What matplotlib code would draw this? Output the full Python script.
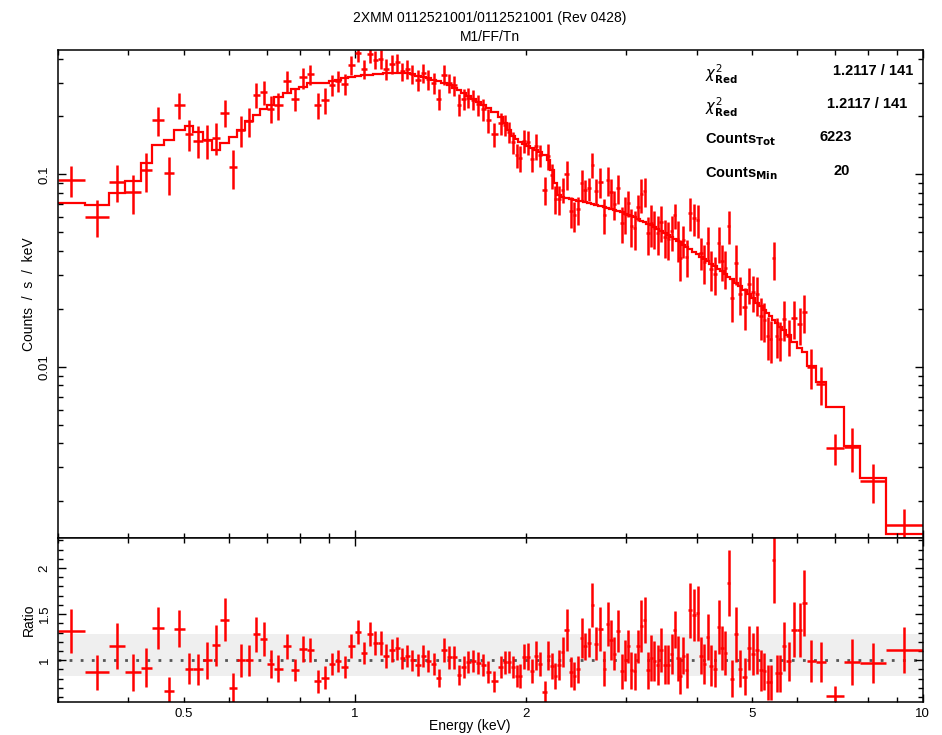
import numpy as np
import matplotlib
matplotlib.use('Agg')
import matplotlib.pyplot as plt
from matplotlib.ticker import FixedLocator, FuncFormatter, MultipleLocator, LogLocator, NullFormatter

plt.rcParams['font.family'] = ['Liberation Sans', 'DejaVu Sans']
plt.rcParams['mathtext.fontset'] = 'dejavusans'

# energy grid (keV), contiguous bin edges
edges = [0.300, 0.336, 0.370, 0.394, 0.420, 0.440, 0.461, 0.481, 0.502, 0.520,
         0.541, 0.560, 0.580, 0.601, 0.622, 0.641, 0.662, 0.681, 0.702, 0.722,
         0.747, 0.772, 0.798, 0.823, 0.848, 0.874, 0.901, 0.925, 0.948, 0.973,
         1.001, 1.026, 1.051, 1.077, 1.099, 1.124, 1.152, 1.178, 1.202, 1.226,
         1.251, 1.277, 1.308, 1.335, 1.363, 1.393, 1.422, 1.454, 1.484, 1.514,
         1.542, 1.570, 1.602, 1.635, 1.669, 1.703, 1.738, 1.788, 1.827, 1.857,
         1.886, 1.915, 1.943, 1.974, 2.003, 2.036, 2.073, 2.106, 2.141, 2.178,
         2.210, 2.241, 2.271, 2.306, 2.341, 2.383, 2.420, 2.453, 2.490, 2.528,
         2.565, 2.603, 2.639, 2.686, 2.733, 2.770, 2.809, 2.846, 2.888, 2.932,
         2.976, 3.016, 3.053, 3.090, 3.132, 3.180, 3.218, 3.262, 3.307, 3.348,
         3.393, 3.440, 3.490, 3.543, 3.591, 3.641, 3.685, 3.723, 3.765, 3.816,
         3.869, 3.929, 3.990, 4.046, 4.100, 4.155, 4.213, 4.270, 4.340, 4.405,
         4.465, 4.525, 4.580, 4.659, 4.739, 4.813, 4.901, 4.981, 5.069, 5.160,
         5.230, 5.298, 5.365, 5.437, 5.506, 5.573, 5.648, 5.743, 5.872, 6.015,
         6.126, 6.251, 6.488, 6.765, 7.275, 7.771, 8.613, 10.0]

# folded model, counts / s / keV
model = [0.0707, 0.0693, 0.0797, 0.0926, 0.114, 0.142, 0.151, 0.171, 0.178, 0.166,
         0.151, 0.134, 0.145, 0.156, 0.170, 0.189, 0.203, 0.218, 0.229, 0.251,
         0.266, 0.277, 0.285, 0.299, 0.299, 0.300, 0.305, 0.309, 0.318, 0.322,
         0.326, 0.328, 0.330, 0.332, 0.334, 0.336, 0.337, 0.338, 0.337, 0.336,
         0.333, 0.326, 0.320, 0.316, 0.311, 0.304, 0.297, 0.290, 0.282, 0.274,
         0.266, 0.256, 0.247, 0.238, 0.229, 0.220, 0.210, 0.198, 0.185, 0.170,
         0.158, 0.152, 0.147, 0.144, 0.141, 0.137, 0.134, 0.131, 0.126, 0.119,
         0.105, 0.090, 0.078, 0.0762, 0.0752, 0.0743, 0.0737, 0.0731, 0.0724, 0.0718,
         0.0710, 0.0703, 0.0696, 0.0685, 0.0677, 0.0669, 0.0661, 0.0652, 0.0643, 0.0635,
         0.0625, 0.0617, 0.0607, 0.0598, 0.0587, 0.0576, 0.0567, 0.0554, 0.0545, 0.0534,
         0.0522, 0.0510, 0.0497, 0.0485, 0.0473, 0.0461, 0.0452, 0.0443, 0.0432, 0.0420,
         0.0409, 0.0396, 0.0385, 0.0374, 0.0364, 0.0354, 0.0344, 0.0334, 0.0322, 0.0314,
         0.0302, 0.0294, 0.0285, 0.0272, 0.0263, 0.0251, 0.0238, 0.0229, 0.0215, 0.0206,
         0.0198, 0.0190, 0.0183, 0.0175, 0.0169, 0.0162, 0.0155, 0.0146, 0.0135, 0.0125,
         0.0119, 0.0101, 0.0083, 0.0062, 0.0039, 0.00263, 0.00135]

# data / model
ratio = [1.32, 0.87, 1.15, 0.87, 0.92, 1.35, 0.67, 1.34, 0.91, 0.90,
         1.00, 1.16, 1.44, 0.70, 1.00, 1.00, 1.28, 1.23, 0.96, 0.91,
         1.15, 0.89, 1.12, 1.11, 0.77, 0.81, 0.96, 0.99, 0.93, 1.15,
         1.31, 1.08, 1.28, 1.19, 1.19, 1.05, 1.11, 1.13, 1.02, 1.05,
         1.00, 0.95, 1.05, 0.99, 0.96, 0.81, 1.11, 1.03, 1.03, 0.84,
         0.93, 0.98, 0.99, 0.97, 0.95, 0.87, 0.77, 0.93, 0.98, 0.98,
         0.93, 0.83, 0.83, 1.04, 1.04, 0.88, 1.05, 0.96, 0.66, 1.05,
         0.94, 0.83, 0.95, 1.09, 1.33, 0.87, 0.83, 0.90, 1.24, 1.15,
         1.19, 1.60, 1.18, 1.34, 0.91, 1.39, 1.22, 1.07, 1.32, 0.88,
         1.00, 1.15, 0.89, 0.88, 1.15, 1.37, 1.44, 0.89, 1.02, 0.99,
         0.95, 1.11, 0.95, 0.95, 1.07, 1.33, 1.02, 0.83, 1.05, 0.89,
         1.54, 1.49, 1.51, 1.05, 0.96, 1.25, 0.94, 0.91, 1.36, 1.13,
         1.08, 1.84, 0.80, 1.28, 0.91, 0.82, 1.13, 1.07, 1.11, 0.89,
         0.88, 0.76, 0.76, 2.09, 0.86, 0.86, 1.15, 0.99, 1.33, 1.33,
         1.62, 0.99, 0.98, 0.61, 0.98, 0.97, 1.11]

ratio_err = [0.24, 0.19, 0.25, 0.20, 0.21, 0.23, 0.15, 0.20, 0.17, 0.17,
             0.20, 0.22, 0.23, 0.16, 0.18, 0.17, 0.19, 0.18, 0.15, 0.15,
             0.14, 0.12, 0.14, 0.13, 0.12, 0.125, 0.12, 0.12, 0.12, 0.13,
             0.13, 0.12, 0.13, 0.13, 0.13, 0.13, 0.125, 0.125, 0.11, 0.12,
             0.115, 0.12, 0.12, 0.12, 0.12, 0.10, 0.13, 0.12, 0.12, 0.11,
             0.12, 0.12, 0.12, 0.12, 0.12, 0.12, 0.11, 0.12, 0.125, 0.12,
             0.12, 0.12, 0.13, 0.14, 0.15, 0.13, 0.16, 0.13, 0.11, 0.16,
             0.14, 0.14, 0.16, 0.16, 0.23, 0.16, 0.15, 0.15, 0.22, 0.15,
             0.16, 0.24, 0.18, 0.24, 0.19, 0.24, 0.22, 0.18, 0.23, 0.19,
             0.22, 0.18, 0.20, 0.20, 0.18, 0.28, 0.25, 0.20, 0.25, 0.22,
             0.22, 0.24, 0.21, 0.21, 0.22, 0.20, 0.24, 0.20, 0.20, 0.19,
             0.30, 0.28, 0.30, 0.20, 0.22, 0.25, 0.22, 0.20, 0.29, 0.24,
             0.24, 0.36, 0.20, 0.30, 0.20, 0.20, 0.24, 0.23, 0.26, 0.22,
             0.20, 0.19, 0.19, 0.47, 0.20, 0.20, 0.27, 0.21, 0.30, 0.29,
             0.36, 0.23, 0.22, 0.11, 0.25, 0.22, 0.25]

title_lines = ['2XMM 0112521001/0112521001 (Rev 0428)', 'M1/FF/Tn']
chi_red = '1.2117 / 141'
counts_tot = '6223'
counts_min = '20'

edges = np.array(edges)
model = np.array(model)
ratio = np.array(ratio)
ratio_err = np.array(ratio_err)
assert len(edges) == len(model) + 1 == len(ratio) + 1 == len(ratio_err) + 1

lo, hi = edges[:-1], edges[1:]
ec = np.sqrt(lo * hi)
xerr = [ec - lo, hi - ec]
rate = model * ratio
rate_err = model * ratio_err

W, H = 942, 735
fig = plt.figure(figsize=(W / 100, H / 100), dpi=100)
ax1 = fig.add_axes([57.5 / W, 1 - 538 / H, 865.2 / W, 488 / H])
ax2 = fig.add_axes([57.5 / W, 1 - 702 / H, 865.2 / W, 164 / H], sharex=ax1)

red = '#ff0000'

# spectrum + model
ax1.errorbar(ec, rate, xerr=xerr, yerr=rate_err, fmt='none', ecolor=red,
             elinewidth=1.8, capsize=0)
ax1.stairs(model, edges, color=red, lw=1.6, baseline=None)
ax1.set_xscale('log')
ax1.set_yscale('log')
ax1.set_xlim(0.3, 10.0)
ax1.set_ylim(0.00129, 0.443)

# ratio panel
ax2.axhspan(0.83, 1.28, color='#efefef', lw=0, zorder=0)
ax2.axhline(1.0, color='#555555', lw=2, ls=(0, (1, 3)), zorder=1)
ax2.errorbar(ec, ratio, xerr=xerr, yerr=ratio_err, fmt='none', ecolor=red,
             elinewidth=1.8, capsize=0, zorder=2)
ax2.set_ylim(0.547, 2.326)

major_x = [1, 10]
minor_x = [0.3, 0.4, 0.5, 0.6, 0.7, 0.8, 0.9, 2, 3, 4, 5, 6, 7, 8, 9]
for ax in (ax1, ax2):
    ax.xaxis.set_major_locator(FixedLocator(major_x))
    ax.xaxis.set_minor_locator(FixedLocator(minor_x))
    ax.tick_params(which='both', direction='in', top=True, right=True,
                   color='black', labelsize=9.5)
    ax.tick_params(which='major', length=6, width=1)
    ax.tick_params(which='minor', length=3.5, width=1)
    for sp in ax.spines.values():
        sp.set_linewidth(1.1)

ax1.tick_params(axis='x', which='both', labelbottom=False)
ax2.tick_params(axis='x', which='both', pad=4)
ax2.xaxis.set_major_formatter(FuncFormatter(lambda v, p: f'{v:g}'))
ax2.xaxis.set_minor_formatter(FuncFormatter(lambda v, p: f'{v:g}' if v in (0.5, 2, 5) else ''))

ax1.yaxis.set_major_locator(LogLocator(base=10))
ax1.yaxis.set_minor_locator(LogLocator(base=10, subs=np.arange(2, 10)))
ax1.yaxis.set_major_formatter(FuncFormatter(lambda v, p: f'{v:g}'))
ax1.yaxis.set_minor_formatter(NullFormatter())

ax2.yaxis.set_major_locator(MultipleLocator(0.5))
ax2.yaxis.set_minor_locator(MultipleLocator(0.1))
ax2.yaxis.set_major_formatter(FuncFormatter(lambda v, p: f'{v:g}'))

for ax in (ax1, ax2):
    ax.tick_params(axis='y', labelrotation=90, pad=5)
    plt.setp(ax.get_yticklabels(), va='center')

ax1.set_ylabel('Counts  /  s  /  keV', fontsize=10, va='center')
ax2.set_ylabel('Ratio', fontsize=10, va='center')
ax1.yaxis.set_label_coords(-0.033, 0.5)
ax2.yaxis.set_label_coords(-0.033, 0.5)
ax2.set_xlabel('Energy (keV)', fontsize=10, va='center')
ax2.xaxis.set_label_coords(0.477, -0.145)

fig.text(490 / W, 1 - 18 / H, title_lines[0], ha='center', va='center', fontsize=10)
fig.text(490 / W, 1 - 37 / H, title_lines[1], ha='center', va='center', fontsize=10)

# fit statistics
st = dict(fontsize=10.5, fontweight='bold', va='center')
fig.text(705 / W, 1 - 74 / H, r'$\chi^2_{\mathbf{Red}}$', **st)
fig.text(913 / W, 1 - 71 / H, chi_red, ha='right', **st)
fig.text(705 / W, 1 - 107 / H, r'$\chi^2_{\mathbf{Red}}$', **st)
fig.text(907 / W, 1 - 104 / H, chi_red, ha='right', **st)
fig.text(705 / W, 1 - 140 / H, r'Counts$_{\mathbf{Tot}}$', **st)
fig.text(820 / W, 1 - 137 / H, counts_tot, **st)
fig.text(705 / W, 1 - 174 / H, r'Counts$_{\mathbf{Min}}$', **st)
fig.text(833 / W, 1 - 171 / H, counts_min, **st)

fig.savefig('out.png', dpi=100)
